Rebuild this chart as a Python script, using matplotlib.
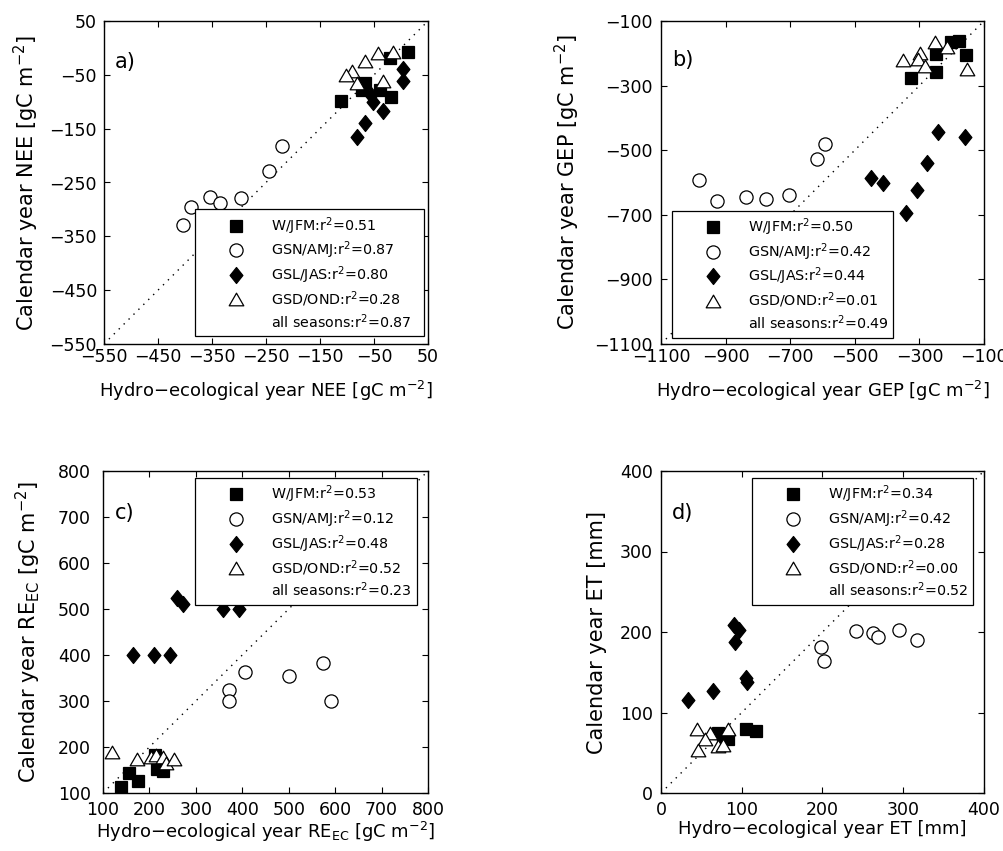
import matplotlib
matplotlib.use("Agg")
import matplotlib.pyplot as plt
from matplotlib.path import Path
from matplotlib.lines import Line2D

plt.rcParams['font.family'] = ['DejaVu Sans']
plt.rcParams['mathtext.fontset'] = 'dejavusans'

# ---------------- data ----------------
# Panel a: NEE
a_w_x = [13, -20, -112, -67, -73, -39, -18]
a_w_y = [-8, -19, -98, -66, -78, -78, -92]
a_gsn_x = [-221, -244, -296, -354, -335, -389, -404]
a_gsn_y = [-182, -229, -278, -277, -288, -295, -329]
a_gsl_x = [3, 4, -52, -34, -67, -82, -55]
a_gsl_y = [-40, -61, -100, -117, -139, -166, -88]
a_gsd_x = [-15, -42, -67, -90, -102, -82, -34]
a_gsd_y = [-7, -10, -24, -42, -50, -66, -61]
a_r2 = ["0.51", "0.87", "0.80", "0.28", "0.87"]

# Panel b: GEP
b_w_x = [-325, -248, -248, -201, -176, -155]
b_w_y = [-276, -257, -202, -164, -161, -205]
b_gsn_x = [-983, -928, -838, -776, -703, -617, -592]
b_gsn_y = [-592, -657, -644, -651, -639, -527, -481]
b_gsl_x = [-449, -413, -343, -307, -276, -243, -160]
b_gsl_y = [-587, -601, -695, -623, -539, -443, -460]
b_gsd_x = [-351, -299, -305, -284, -251, -215, -152]
b_gsd_y = [-221, -200, -219, -239, -164, -181, -250]
b_r2 = ["0.50", "0.42", "0.44", "0.01", "0.49"]

# Panel c: RE_EC
c_w_x = [139, 157, 176, 216, 230, 212]
c_w_y = [114, 143, 126, 152, 147, 183]
c_gsn_x = [405, 372, 372, 501, 574, 592]
c_gsn_y = [364, 323, 299, 355, 383, 299]
c_gsl_x = [260, 273, 359, 393, 164, 210, 244]
c_gsl_y = [523, 510, 500, 500, 399, 401, 401]
c_gsd_x = [119, 173, 203, 214, 230, 236, 252]
c_gsd_y = [190, 175, 179, 183, 179, 165, 173]
c_r2 = ["0.53", "0.12", "0.48", "0.52", "0.23"]

# Panel d: ET
d_w_x = [105, 118, 71, 83, 77]
d_w_y = [80, 77, 75, 67, 70]
d_gsn_x = [198, 202, 242, 263, 269, 295, 317]
d_gsn_y = [181, 164, 201, 199, 194, 202, 190]
d_gsl_x = [90, 96, 92, 105, 106, 65, 33]
d_gsl_y = [209, 203, 187, 143, 138, 127, 115]
d_gsd_x = [44, 83, 61, 54, 46, 71, 77]
d_gsd_y = [80, 80, 75, 67, 54, 58, 60]
d_r2 = ["0.34", "0.42", "0.28", "0.00", "0.52"]

season_names = ["W/JFM", "GSN/AMJ", "GSL/JAS", "GSD/OND", "all seasons"]

# ---------------- markers ----------------
diamond = Path([(0, 1), (0.8, 0), (0, -1), (-0.8, 0), (0, 1)],
               [Path.MOVETO, Path.LINETO, Path.LINETO, Path.LINETO, Path.CLOSEPOLY])
triangle = Path([(-1, -0.866), (1, -0.866), (0, 0.866), (-1, -0.866)],
                [Path.MOVETO, Path.LINETO, Path.LINETO, Path.CLOSEPOLY])

styles = [
    dict(marker='s', ms=8, mfc='black', mec='black'),
    dict(marker='o', ms=9.5, mfc='white', mec='black'),
    dict(marker=diamond, ms=11.5, mfc='black', mec='black'),
    dict(marker=triangle, ms=10.5, mfc='white', mec='black'),
]

W, H = 1004, 851
fig = plt.figure(figsize=(W / 100, H / 100), dpi=100)


def ax_rect(l, r, t, b):
    return [l / W, 1 - b / H, (r - l) / W, (b - t) / H]


panels = [
    dict(rect=ax_rect(104, 428, 21, 344), lim=(-550, 50), ticks=list(range(-550, 51, 100)),
         data=[(a_w_x, a_w_y), (a_gsn_x, a_gsn_y), (a_gsl_x, a_gsl_y), (a_gsd_x, a_gsd_y)],
         r2=a_r2, label='a)', lab_pos=(0.034, 0.873),
         xlabel='Hydro\u2212ecological year NEE [gC m$^{-2}$]',
         ylabel='Calendar year NEE [gC m$^{-2}$]',
         leg=(0.281, 0.034, 0.707, 0.372), xpad=3, ypad=5,
         xlab_y=-0.108, ylab_x=-0.195),
    dict(rect=ax_rect(661, 984, 21, 344), lim=(-1100, -100), ticks=list(range(-1100, -99, 200)),
         data=[(b_w_x, b_w_y), (b_gsn_x, b_gsn_y), (b_gsl_x, b_gsl_y), (b_gsd_x, b_gsd_y)],
         r2=b_r2, label='b)', lab_pos=(0.034, 0.879),
         xlabel='Hydro\u2212ecological year GEP [gC m$^{-2}$]',
         ylabel='Calendar year GEP [gC m$^{-2}$]',
         leg=(0.034, 0.031, 0.684, 0.371), xpad=3, ypad=5.8,
         xlab_y=-0.108, ylab_x=-0.245),
    dict(rect=ax_rect(103, 428, 471, 793), lim=(100, 800), ticks=list(range(100, 801, 100)),
         data=[(c_w_x, c_w_y), (c_gsn_x, c_gsn_y), (c_gsl_x, c_gsl_y), (c_gsd_x, c_gsd_y)],
         r2=c_r2, label='c)', lab_pos=(0.037, 0.87),
         xlabel='Hydro\u2212ecological year RE$_{\\mathrm{EC}}$ [gC m$^{-2}$]',
         ylabel='Calendar year RE$_{\\mathrm{EC}}$ [gC m$^{-2}$]',
         leg=(0.283, 0.593, 0.683, 0.376), xpad=5.5, ypad=8.6,
         xlab_y=-0.084, ylab_x=-0.185),
    dict(rect=ax_rect(661, 984, 471, 793), lim=(0, 400), ticks=list(range(0, 401, 100)),
         data=[(d_w_x, d_w_y), (d_gsn_x, d_gsn_y), (d_gsl_x, d_gsl_y), (d_gsd_x, d_gsd_y)],
         r2=d_r2, label='d)', lab_pos=(0.034, 0.87),
         xlabel='Hydro\u2212ecological year ET [mm]',
         ylabel='Calendar year ET [mm]',
         leg=(0.282, 0.593, 0.684, 0.376), xpad=5.5, ypad=5.8,
         xlab_y=-0.084, ylab_x=-0.167),
]

for p in panels:
    ax = fig.add_axes(p['rect'])
    lo, hi = p['lim']
    ax.plot([lo, hi], [lo, hi], ls=(0, (1, 4)), color='black', lw=1.0, zorder=1)
    handles = []
    for (xs, ys), st in zip(p['data'], styles):
        h, = ax.plot(xs, ys, ls='none', mew=0.9, zorder=2, **st)
        handles.append(h)
    handles.append(Line2D([], [], ls='none', marker=None))
    labels = [f"{n}:r$^2$={v}" for n, v in zip(season_names, p['r2'])]
    ax.set_xlim(lo, hi)
    ax.set_ylim(lo, hi)
    ax.set_xticks(p['ticks'])
    ax.set_yticks(p['ticks'])
    ax.tick_params(direction='in', top=True, right=True, length=4, width=0.8,
                   labelsize=12.5)
    ax.tick_params(axis='x', pad=p['xpad'])
    ax.tick_params(axis='y', pad=p['ypad'])
    for s in ax.spines.values():
        s.set_linewidth(1.0)
    ax.set_xlabel(p['xlabel'], fontsize=13)
    ax.set_ylabel(p['ylabel'], fontsize=15)
    ax.xaxis.set_label_coords(0.5, p['xlab_y'])
    ax.yaxis.set_label_coords(p['ylab_x'], 0.5)
    ax.text(p['lab_pos'][0], p['lab_pos'][1], p['label'], transform=ax.transAxes,
            fontsize=15, ha='left', va='center')
    leg = ax.legend(handles, labels, loc='center', bbox_to_anchor=p['leg'], mode='expand',
                    fontsize=10.3, numpoints=1, frameon=True, fancybox=False,
                    framealpha=1, edgecolor='black', handlelength=4.9,
                    handletextpad=0.0, borderpad=0.4, labelspacing=0.22,
                    borderaxespad=0)
    leg.get_frame().set_linewidth(0.9)
    leg.set_zorder(5)

fig.savefig('out.png', dpi=100)
